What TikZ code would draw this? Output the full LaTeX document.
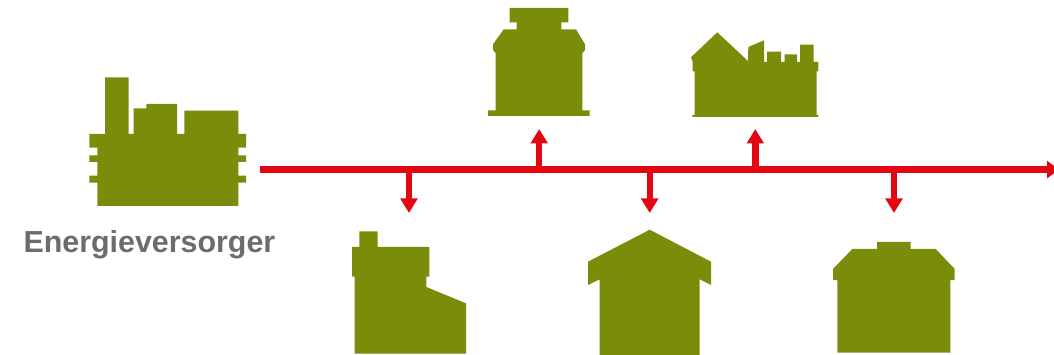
\documentclass[tikz,border=0pt]{standalone}
\usepackage{fontspec}
\setmainfont{Liberation Sans}
\usetikzlibrary{arrows.meta}
\definecolor{olivegreen}{HTML}{7B8C0A}
\definecolor{flowred}{HTML}{E30613}
\definecolor{labelgray}{HTML}{6C6C6C}
\tikzset{
  building/.style={fill=olivegreen,draw=none},
  mainline/.style={draw=flowred,line width=6.9pt,-{Triangle[width=17pt,length=12pt]}},
  branch/.style={draw=flowred,line width=6.4pt,-{Triangle[width=16.5pt,length=14.5pt]}},
  caption/.style={text=labelgray,font=\bfseries\fontsize{30.4}{34}\selectfont,inner sep=0pt,anchor=base west}
}
\begin{document}
\begin{tikzpicture}[x=1pt,y=-1pt]
\clip (0,0) rectangle (1054,355);
% supplier
\path[building] (97.3,206)--(97.3,182.7)--(89.3,182.7)--(89.3,175.7)--(97.3,175.7)--(97.3,162)--(89.3,162)--(89.3,155.3)--(97.3,155.3)--(97.3,147.7)--(89.3,147.7)--(89.3,134)--(105,134)--(105,77.3)--(128.7,77.3)--(128.7,134)--(133.7,134)--(133.7,108.3)--(146.3,108.3)--(146.3,104)--(177,104)--(177,134)--(184.3,134)--(184.3,110.7)--(238.3,110.7)--(238.3,134)--(246,134)--(246,147.7)--(238.3,147.7)--(238.3,155.3)--(246,155.3)--(246,162)--(238.3,162)--(238.3,175.7)--(246,175.7)--(246,182.7)--(238.3,182.7)--(238.3,206)--cycle;
\node[caption] (label) at (23.3,252) {Energieversorger};
% upper buildings
\path[building] (509.7,8)--(568.3,8)--(568.3,22.3)--(561.3,22.3)--(561.3,29.3)--(576,29.3)--(585,44.3)--(585,50)--(582.3,53.3)--(582.3,110.3)--(589.7,110.3)--(589.7,116)--(488,116)--(488,110.3)--(495.7,110.3)--(495.7,53.3)--(493,50)--(493,44.3)--(503.7,29.3)--(516.7,29.3)--(516.7,22.3)--(509.7,22.3)--cycle;
\path[building] (717.3,32.3)--(748,61)--(748.3,47)--(764,40.3)--(764,62)--(767,62)--(767,51.7)--(781,51.7)--(781,62)--(784.7,62)--(784.7,54.3)--(797,54.3)--(797,62)--(800,62)--(800,44.7)--(813.7,44.7)--(813.7,62)--(818.3,62)--(818.3,71.3)--(816.7,71.3)--(816.7,115)--(818.3,115)--(818.3,117)--(692.3,117)--(692.3,115)--(694.7,115)--(694.7,71.3)--(692.7,71.3)--(692.7,62)--(691,57.3)--cycle;
% lower buildings
\path[building] (359.3,231.3)--(377.7,231.3)--(377.7,247)--(429.3,247)--(429.3,276.7)--(426.3,276.7)--(426.3,287)--(466,303.3)--(466,353.7)--(354.7,353.7)--(354.7,276.7)--(352,276.7)--(352,247)--(359.3,247)--cycle;
\path[building] (649.7,229.7)--(711,261.7)--(711,285)--(699.7,279.3)--(699.7,355)--(599.7,355)--(599.7,279.3)--(588,285)--(588,261.7)--cycle;
\path[building] (877,242)--(910.7,242)--(910.7,249)--(935.7,249)--(954.7,269)--(954.7,280)--(950.3,280)--(950.3,352.7)--(837.3,352.7)--(837.3,280)--(833,280)--(833,269)--(852.3,249)--(877,249)--cycle;
% connectors
\coordinate (start) at (260.3,169.6);
\coordinate (end) at (1059,169.6);
\coordinate (j1) at (409,169.6);
\coordinate (j2) at (539.2,169.6);
\coordinate (j3) at (649.7,169.6);
\coordinate (j4) at (755.3,169.6);
\coordinate (j5) at (894,169.6);
\coordinate (t1) at (409,213);
\coordinate (t2) at (539.2,129);
\coordinate (t3) at (649.7,213);
\coordinate (t4) at (755.3,129);
\coordinate (t5) at (894,213);
\draw[mainline] (start) -- (end);
\draw[branch] (j1) -- (t1);
\draw[branch] (j2) -- (t2);
\draw[branch] (j3) -- (t3);
\draw[branch] (j4) -- (t4);
\draw[branch] (j5) -- (t5);
\end{tikzpicture}
\end{document}
